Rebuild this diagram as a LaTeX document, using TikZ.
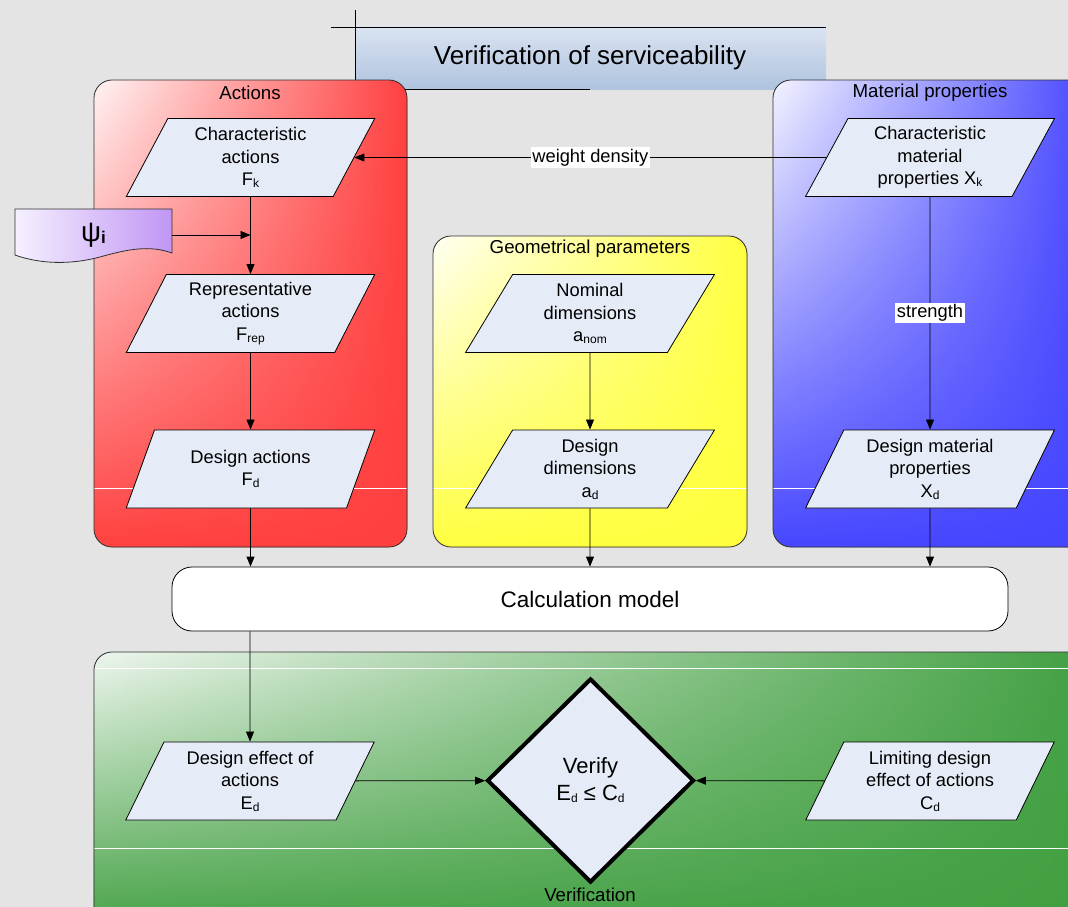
\documentclass[tikz,border=0pt]{standalone}
\usepackage{fontspec}
\setmainfont{Liberation Sans}
\usetikzlibrary{shapes.geometric,arrows.meta,fadings}

\definecolor{bggray}{HTML}{E4E4E4}
\definecolor{parafill}{HTML}{E6ECF7}
\definecolor{titletop}{HTML}{DAE3F1}
\definecolor{titlebot}{HTML}{AFC3DF}
\definecolor{redlt}{HTML}{FFF4F4}
\definecolor{reddk}{HTML}{FF4040}
\definecolor{yellt}{HTML}{FFFFF4}
\definecolor{yeldk}{HTML}{FFFF40}
\definecolor{blult}{HTML}{F4F4FF}
\definecolor{bludk}{HTML}{4646FF}
\definecolor{grnlt}{HTML}{EEF6EE}
\definecolor{grndk}{HTML}{42A042}
\definecolor{psilt}{HTML}{F6F0FF}
\definecolor{psidk}{HTML}{C096F4}
\definecolor{boxedge}{HTML}{303030}

\tikzfading[name=downfade, top color=transparent!100, bottom color=transparent!0]

\newcommand{\lo}[1]{\raisebox{-2pt}{\fontsize{12}{12}\selectfont #1}}

\begin{document}
\begin{tikzpicture}[x=1pt,y=-1pt,
  para/.style={trapezium, trapezium left angle=65, trapezium right angle=115,
    trapezium stretches=true, minimum width=249pt, minimum height=78pt,
    inner sep=0pt, draw=black, line width=0.8pt, fill=parafill, align=center,
    font=\fontsize{18.3}{22.5}\selectfont},
  flow/.style={-{Triangle[length=10pt,width=8pt]}, line width=0.8pt},
  edgelbl/.style={fill=white, inner sep=1.5pt, font=\fontsize{18.3}{18.3}\selectfont},
  grouplbl/.style={font=\fontsize{18.7}{18.7}\selectfont},
  groupedge/.style={draw=boxedge, line width=0.8pt},
  seam/.style={white, line width=0.8pt}
]
\useasboundingbox (0,0) rectangle (1068,907);
\fill[bggray] (0,0) rectangle (1068,907);

% title banner
\fill[top color=titletop, bottom color=titlebot] (355,27) rectangle (826,89);
\draw[line width=0.9pt] (331,27) -- (826,27);
\draw[line width=0.9pt] (355,10) -- (355,89) -- (590,89);
\node[font=\fontsize{26}{26}\selectfont] (title) at (590,58) {Verification of serviceability};

% group panels
\fill[rounded corners=18pt, left color=redlt, right color=reddk] (94,80) rectangle (407,547);
\fill[rounded corners=18pt, reddk, path fading=downfade] (94,80) rectangle (407,547);
\draw[seam] (94,488) -- (407,488);
\draw[rounded corners=18pt, groupedge] (94,80) rectangle (407,547);

\fill[rounded corners=18pt, left color=yellt, right color=yeldk] (433,236) rectangle (747,547);
\fill[rounded corners=18pt, yeldk, path fading=downfade] (433,236) rectangle (747,547);
\draw[seam] (433,488) -- (747,488);
\draw[rounded corners=18pt, groupedge] (433,236) rectangle (747,547);

\fill[rounded corners=18pt, left color=blult, right color=bludk] (773,80) rectangle (1095,547);
\fill[rounded corners=18pt, bludk, path fading=downfade] (773,80) rectangle (1095,547);
\draw[seam] (773,488) -- (1068,488);
\draw[rounded corners=18pt, groupedge] (773,80) rectangle (1095,547);

\fill[rounded corners=18pt, left color=grnlt, right color=grndk] (94,652) rectangle (1095,935);
\fill[rounded corners=18pt, grndk, path fading=downfade] (94,652) rectangle (1095,935);
\draw[seam] (94,668) -- (1068,668);
\draw[seam] (94,848) -- (1068,848);
\draw[rounded corners=18pt, groupedge] (94,652) rectangle (1095,935);

\node[grouplbl] (lblact) at (250,93) {Actions};
\node[grouplbl] (lblgeo) at (590,249) {Geometrical parameters};
\node[grouplbl] (lblmat) at (930,93) {Material properties};
\node[grouplbl] (lblver) at (590,895) {Verification};

% combination factor tag
\draw[left color=psilt, right color=psidk, draw=boxedge, line width=0.8pt]
  (15,209) -- (172,209) -- (172,253)
  .. controls (150,245) and (128,249) .. (100,257)
  .. controls (70,265) and (40,264) .. (15,255) -- cycle;
\node[minimum width=157pt, minimum height=50pt, inner sep=0pt] (psi) at (93.5,235)
  {\fontsize{28}{28}\selectfont ψ\raisebox{-2pt}{\fontsize{17}{17}\selectfont\bfseries i}};

% data nodes
\node[para] (Fk)   at (250.5,157.5) {Characteristic\\actions\\F\lo{k}};
\node[para] (Frep) at (250.5,313.5) {Representative\\actions\\F\lo{rep}};
\node[para] (Fd)   at (250.5,469)   {Design actions\\F\lo{d}};
\node[para] (anom) at (590,313.5)   {Nominal\\dimensions\\a\lo{nom}};
\node[para] (ad)   at (590,469)     {Design\\dimensions\\a\lo{d}};
\node[para] (Xk)   at (930,157.5)   {Characteristic\\material\\properties X\lo{k}};
\node[para] (Xd)   at (930,469)     {Design material\\properties\\X\lo{d}};
\node[para] (Ed)   at (250,781)     {Design effect of\\actions\\E\lo{d}};
\node[para] (Cd)   at (930,781)     {Limiting design\\effect of actions\\C\lo{d}};

\node[draw, line width=0.8pt, fill=white, rounded corners=20pt, minimum width=836pt,
  minimum height=64pt, font=\fontsize{22.5}{22.5}\selectfont] (calc) at (590,599) {Calculation model};

\node[diamond, aspect=1, draw, line width=4pt, fill=parafill, minimum width=207pt,
  minimum height=204pt, inner sep=0pt, align=center,
  font=\fontsize{22}{27}\selectfont] (V) at (590.5,780.5) {Verify\\E\lo{d} ≤ C\lo{d}};

% connectors
\coordinate (join) at (250.5,235);
\draw[line width=0.8pt] (Fk) -- (join);
\draw[flow] (join) -- (Frep);
\draw[flow] (psi.east) -- (join);
\draw[flow] (Frep) -- (Fd);
\draw[flow] (Fd) -- (Fd |- calc.north);
\draw[flow] (anom) -- (ad);
\draw[flow] (ad) -- (ad |- calc.north);
\draw[flow] (Xk) -- node[edgelbl] {strength} (Xd);
\draw[flow] (Xd) -- (Xd |- calc.north);
\draw[flow] (Xk) -- node[edgelbl] {weight density} (Fk);
\draw[flow] (calc.south -| Ed) -- (Ed);
\draw[flow] (Ed) -- (V);
\draw[flow] (Cd) -- (V);
\end{tikzpicture}
\end{document}
